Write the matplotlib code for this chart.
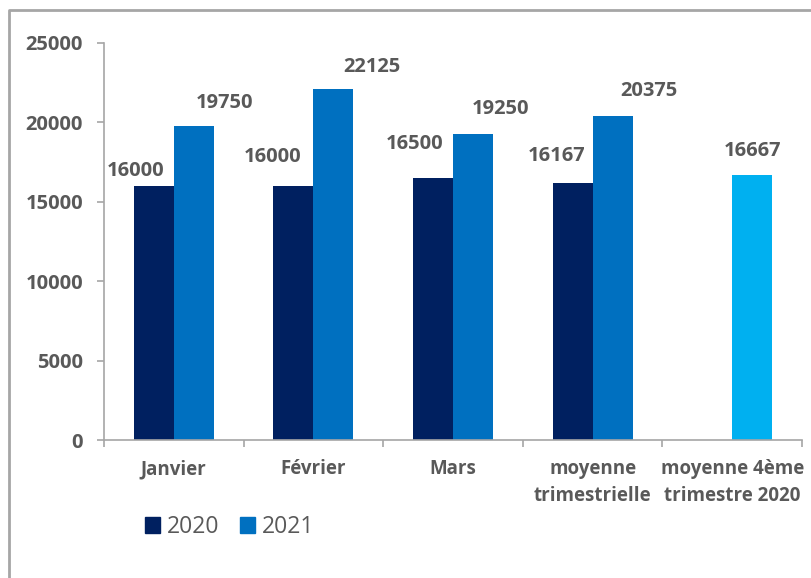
import matplotlib.pyplot as plt
import numpy as np
from matplotlib.lines import Line2D
from matplotlib.patches import Patch

plt.rcParams['font.family'] = ['Open Sans', 'DejaVu Sans']

categories = ["Janvier", "Février", "Mars", "moyenne\ntrimestrielle",
              "moyenne 4ème\ntrimestre 2020"]
values_2020 = [16000, 16000, 16500, 16167, np.nan]
values_2021 = [19750, 22125, 19250, 20375, 16667]
series_names = ["2020", "2021"]

# label offsets (pixels) from bar top centre, the labels were placed by hand
offsets_2020 = [(-18, 15), (-21, 29), (-18, 34), (-16, 27), (0, 0)]
offsets_2021 = [(31, 23), (39, 22), (27, 25), (36, 25), (0, 24)]

c2020 = "#002060"
c2021 = "#0070C0"
c_last = "#00B0F0"
txt = "#595959"
axis_col = "#A6A6A6"
fs = 14.5

fig = plt.figure(figsize=(8.11, 5.78), dpi=100)
ax = fig.add_axes([104 / 811, 1 - 440 / 578, 698 / 811, 397 / 578])

x = np.arange(len(categories))
w = 0.2866
colors_2021 = [c2021] * (len(categories) - 1) + [c_last]
b1 = ax.bar(x - w / 2, values_2020, w, color=c2020)
b2 = ax.bar(x + w / 2, values_2021, w, color=colors_2021)

for bars, vals, offs in [(b1, values_2020, offsets_2020), (b2, values_2021, offsets_2021)]:
    for bar, v, (dx, dy) in zip(bars, vals, offs):
        if np.isnan(v):
            continue
        ax.annotate(f"{v:.0f}", (bar.get_x() + bar.get_width() / 2, v),
                    xytext=(dx, dy), textcoords="offset pixels",
                    ha="center", va="center", fontsize=fs,
                    fontweight="bold", color=txt)

ax.set_xlim(-0.5, len(categories) - 0.5)
ax.set_ylim(0, 25000)
ax.set_yticks(np.arange(0, 25001, 5000))
ax.set_xticks(x)
ax.set_xticklabels(categories, fontsize=13.5, fontweight="bold", color=txt,
                   linespacing=1.45)
ax.set_xticks(np.arange(-0.5, len(categories), 1), minor=True)
ax.tick_params(axis="x", which="major", length=0, pad=14)
ax.tick_params(axis="x", which="minor", length=5, width=1.2, color=axis_col)
ax.tick_params(axis="y", length=5, width=1.2, color=axis_col, pad=10,
               labelsize=fs, labelcolor=txt)
for lab in ax.get_yticklabels():
    lab.set_fontweight("bold")

for s in ["top", "right"]:
    ax.spines[s].set_visible(False)
for s in ["left", "bottom"]:
    ax.spines[s].set_color(axis_col)
    ax.spines[s].set_linewidth(1.2)

handles = [Patch(color=c2020), Patch(color=c2021)]
fig.legend(handles, series_names, loc="center left",
           bbox_to_anchor=(145 / 811, 1 - 527 / 578), ncol=2, frameon=False,
           fontsize=16.5, handlelength=0.66, handleheight=0.66,
           handletextpad=0.3, columnspacing=0.9, borderpad=0,
           borderaxespad=0, labelcolor=txt)

# outer frame, only left and top edges show in the crop
fig.add_artist(Line2D([9 / 811, 9 / 811, 1], [0, 1 - 10 / 578, 1 - 10 / 578],
                      transform=fig.transFigure, color=axis_col, linewidth=2))

fig.savefig("out.png", dpi=100)
